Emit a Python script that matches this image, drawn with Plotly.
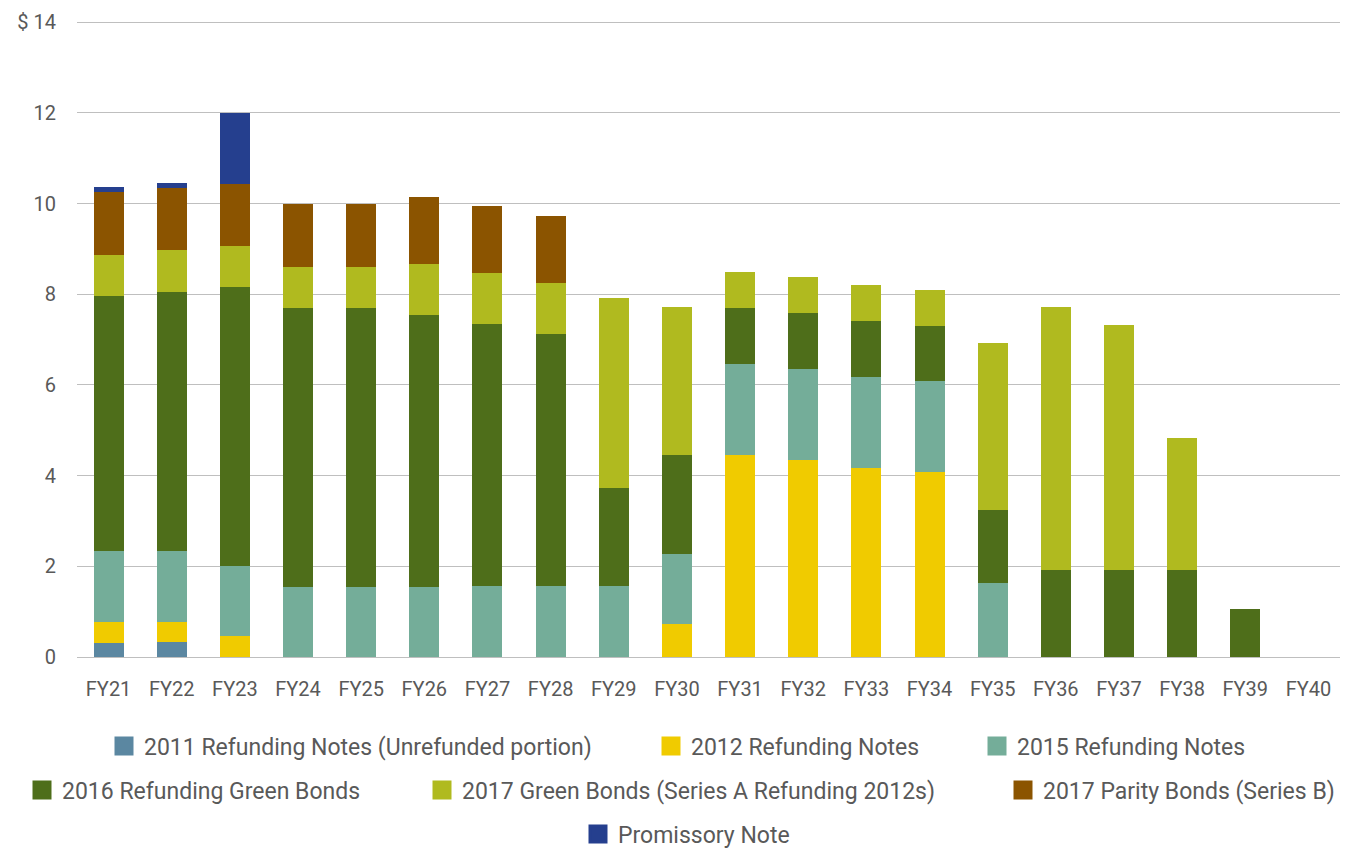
import plotly.graph_objects as go

categories = ["FY21", "FY22", "FY23", "FY24", "FY25", "FY26", "FY27", "FY28", "FY29", "FY30",
              "FY31", "FY32", "FY33", "FY34", "FY35", "FY36", "FY37", "FY38", "FY39", "FY40"]

notes_2011 = [0.31, 0.33, 0, 0, 0, 0, 0, 0, 0, 0, 0, 0, 0, 0, 0, 0, 0, 0, 0, 0]
notes_2012 = [0.46, 0.44, 0.46, 0, 0, 0, 0, 0, 0, 0.73, 4.46, 4.35, 4.17, 4.08, 0, 0, 0, 0, 0, 0]
notes_2015 = [1.57, 1.57, 1.54, 1.54, 1.54, 1.54, 1.57, 1.57, 1.57, 1.54, 2.00, 2.00, 2.01, 2.01, 1.63, 0, 0, 0, 0, 0]
green_2016 = [5.62, 5.71, 6.16, 6.16, 6.16, 6.00, 5.78, 5.56, 2.16, 2.19, 1.24, 1.24, 1.23, 1.21, 1.61, 1.92, 1.92, 1.92, 1.06, 0]
green_2017 = [0.91, 0.93, 0.91, 0.90, 0.90, 1.13, 1.12, 1.12, 4.19, 3.26, 0.79, 0.79, 0.80, 0.80, 3.69, 5.80, 5.40, 2.91, 0, 0]
parity_2017 = [1.39, 1.37, 1.36, 1.40, 1.40, 1.48, 1.48, 1.48, 0, 0, 0, 0, 0, 0, 0, 0, 0, 0, 0, 0]
promissory = [0.11, 0.11, 1.57, 0, 0, 0, 0, 0, 0, 0, 0, 0, 0, 0, 0, 0, 0, 0, 0, 0]

series_names = [
    "2011 Refunding Notes (Unrefunded portion)",
    "2012 Refunding Notes",
    "2015 Refunding Notes",
    "2016 Refunding Green Bonds",
    "2017 Green Bonds (Series A Refunding 2012s)",
    "2017 Parity Bonds (Series B)",
    "Promissory Note",
]
series_values = [notes_2011, notes_2012, notes_2015, green_2016, green_2017, parity_2017, promissory]
series_colors = ["#5B87A1", "#F0CB00", "#74AD99", "#4E6E1A", "#B0BA1F", "#8B5400", "#253F8E"]

y_tickvals = [0, 2, 4, 6, 8, 10, 12, 14]
y_ticktext = ["0", "2", "4", "6", "8", "10", "12", "$ 14"]

# the page body has an 8px margin, so the figure is sized to fit the window
W, H = 1354, 840
FONT = "Roboto"
TXT = "#595959"

# legend item placement (left px, center y px) in figure pixels
legend_pos = [(96, 738), (643, 738), (969, 738), (14, 782), (414, 782), (995, 782), (570, 826)]
legend_ids = ["legend2", "legend3", "legend4", "legend5", "legend6", "legend7", "legend8"]

fig = go.Figure()
for name, vals, col in zip(series_names, series_values, series_colors):
    fig.add_trace(go.Bar(x=categories, y=vals, name=name, showlegend=False,
                         marker=dict(color=col, line=dict(width=0))))

# legend swatches (no data points)
for name, col, lid in zip(series_names, series_colors, legend_ids):
    fig.add_trace(go.Scatter(x=[None], y=[None], mode="markers", name=name, legend=lid,
                             marker=dict(symbol="square", size=16, color=col, line=dict(width=3, color=col))))

layout_legends = {}
for lid, (lx, ly) in zip(legend_ids, legend_pos):
    layout_legends[lid] = dict(
        xref="container", yref="container",
        x=lx / W, y=(H - ly) / H, xanchor="left", yanchor="middle",
        orientation="h", bgcolor="rgba(0,0,0,0)", borderwidth=0,
        font=dict(family=FONT, size=23, color=TXT),
    )

fig.update_layout(
    width=W, height=H,
    margin=dict(l=69, r=22, t=12, b=191, autoexpand=False),
    plot_bgcolor="white", paper_bgcolor="white",
    barmode="stack", bargap=0.525,
    font=dict(family=FONT, size=20, color=TXT),
    showlegend=True,
    xaxis=dict(showgrid=False, showline=False, zeroline=False, ticks="",
               tickfont=dict(family=FONT, size=20, color=TXT), ticklabelstandoff=18),
    yaxis=dict(range=[0, 14.05], tickvals=y_tickvals, ticktext=y_ticktext,
               showgrid=True, gridcolor="#BFBFBF", gridwidth=1,
               zeroline=True, zerolinecolor="#BFBFBF", zerolinewidth=1, showline=False,
               ticks="", ticklabelstandoff=20,
               tickfont=dict(family=FONT, size=20, color=TXT)),
    **layout_legends,
)

fig.write_html("out.html")
